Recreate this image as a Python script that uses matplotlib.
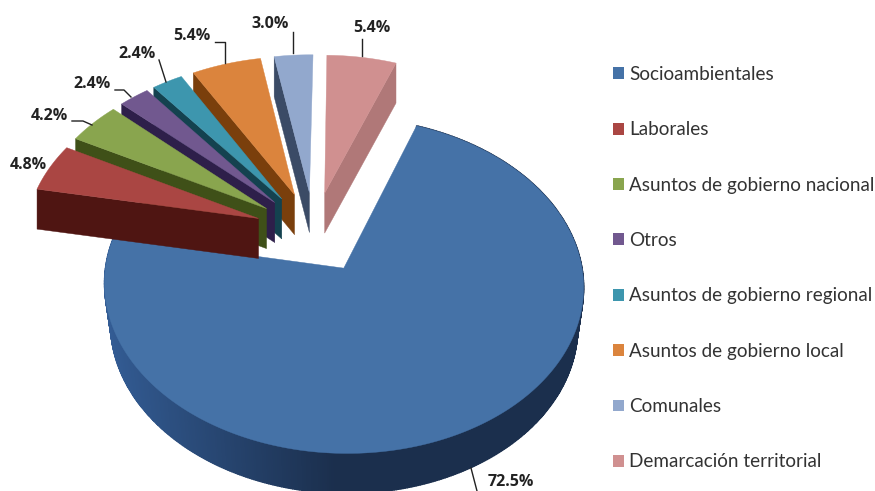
import numpy as np
import matplotlib
matplotlib.use("Agg")
import matplotlib.pyplot as plt
from matplotlib.patches import Patch

# --------------------------------
# 1. Data
# --------------------------------
categories = ["Socioambientales", "Laborales", "Asuntos de gobierno nacional", "Otros",
              "Asuntos de gobierno regional", "Asuntos de gobierno local", "Comunales",
              "Demarcación territorial"]
values = [72.5, 4.8, 4.2, 2.4, 2.4, 5.4, 3.0, 5.4]
labels = ["72.5%", "4.8%", "4.2%", "2.4%", "2.4%", "5.4%", "3.0%", "5.4%"]

top_colors = ["#4572a7", "#aa4643", "#89a54e", "#71588f", "#3d96ae", "#db843d", "#92a8cd", "#d09090"]
wall_colors = ["#1b2f4d", "#4f1512", "#3f5018", "#2e1f4a", "#14424f", "#7a3f0c", "#3b4b66", "#b07878"]

# pie geometry, in pixels
cx, cy = 314, 232
rx, ry = 233, 159
persp = 0.10       # back of the pie is smaller than the front
explode = 0.255
depth = 40
bottom_shrink = 0.975
start_deg = 20.3

# label centre and leader line for each slice
label_pos = [(511, 482.5), (28, 165), (49, 116), (92, 84), (137, 54), (192, 36), (270, 24), (372, 28)]
leaders = [[(471, 468), (477, 491)], None, [(72, 121), (83, 121), (92, 125)],
           [(115, 90), (124, 90), (131, 97)], [(159, 60), (166, 82)],
           [(215, 42), (225, 42), (225, 63)], [(293, 32), (293, 53)], [(362, 39), (362, 56)]]


def project(u, v):
    w = 1 + persp * v
    return cx + rx * u / w, cy - ry * v / w


# --------------------------------
# 2. Plot
# --------------------------------
fig = plt.figure(figsize=(8.75, 4.91), dpi=100)
ax = fig.add_axes([0, 0, 1, 1])
ax.set_xlim(0, 875)
ax.set_ylim(491, 0)
ax.axis("off")

fracs = np.array(values) / sum(values)
edges = np.radians(start_deg + 360 * np.concatenate([[0], np.cumsum(fracs)]))

# big slice first, then from right to left
order = {0: 1, 7: 2, 6: 3, 5: 4, 4: 5, 3: 6, 2: 7, 1: 8}

for i in range(len(values)):
    a0, a1 = edges[i], edges[i + 1]
    mid = (a0 + a1) / 2
    du, dv = explode * np.sin(mid), explode * np.cos(mid)
    th = np.linspace(a0, a1, max(int(np.degrees(a1 - a0)) * 2, 6))
    ap_x, ap_y = project(du, dv)
    xs, ys = project(du + np.sin(th), dv + np.cos(th))

    if i == 0:
        # outer wall of the big slice, shaded from left to right
        base = np.array(matplotlib.colors.to_rgb(wall_colors[0]))
        left = np.array([0.20, 0.36, 0.58])
        bx = ap_x + (xs - ap_x) * bottom_shrink
        for j in range(len(th) - 1):
            t = np.clip((xs[j] - 105) / 230, 0, 1)
            c = left * (1 - t) + base * t
            ax.fill([xs[j], xs[j + 1], bx[j + 1], bx[j]],
                    [ys[j], ys[j + 1], ys[j + 1] + depth, ys[j] + depth],
                    color=c, lw=1.0, zorder=order[i])
    else:
        # cut face, right edge for the last slice, left edge for the others
        k = -1 if i == 7 else 0
        ax.fill([ap_x, xs[k], xs[k], ap_x], [ap_y, ys[k], ys[k] + depth, ap_y + depth],
                color=wall_colors[i], lw=0.3, zorder=order[i])

    # top face
    ax.fill(np.r_[ap_x, xs], np.r_[ap_y, ys], color=top_colors[i], lw=0.3, zorder=order[i] + 0.5)

for lab, pos, line in zip(labels, label_pos, leaders):
    ax.text(pos[0], pos[1], lab, fontsize=11.5, fontweight="bold", family="Open Sans",
            color="#222222", ha="center", va="center", zorder=20)
    if line is not None:
        ax.plot([p[0] for p in line], [p[1] for p in line], color="#222222", lw=1.0, zorder=20)

handles = [Patch(facecolor=c, edgecolor="none", label=n) for c, n in zip(top_colors, categories)]
ax.legend(handles=handles, loc="upper left", bbox_to_anchor=(613 / 875, 1 - 66 / 491),
          frameon=False, prop={"family": "Lato", "size": 13.6}, labelcolor="#333333",
          handlelength=0.58, handleheight=0.58, handletextpad=0.26, labelspacing=2.03,
          borderpad=0, borderaxespad=0)

plt.savefig("out.png", dpi=100)
